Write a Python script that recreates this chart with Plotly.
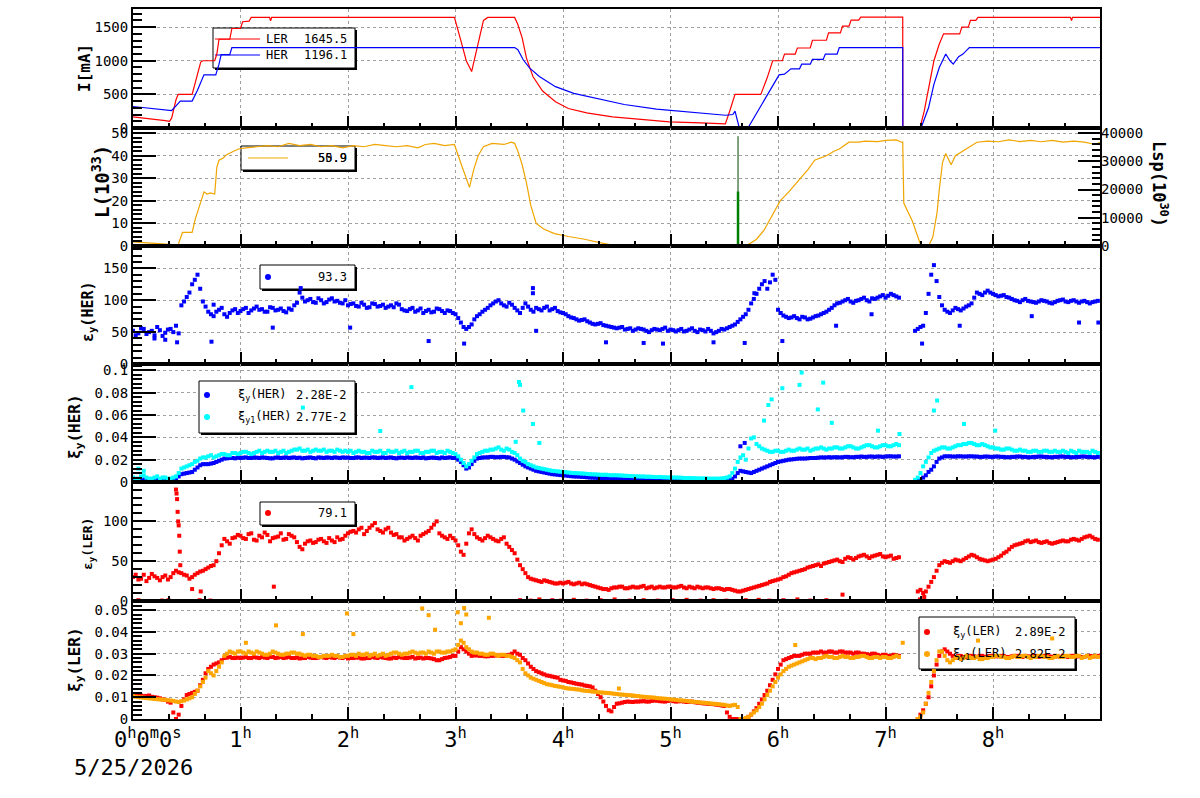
import plotly.graph_objects as go

# ---------------- data ----------------
hour_ticks = [0, 1, 2, 3, 4, 5, 6, 7, 8]
hour_labels = ["0<sup>h</sup>0<sup>m</sup>0<sup>s</sup>", "1<sup>h</sup>", "2<sup>h</sup>", "3<sup>h</sup>",
               "4<sup>h</sup>", "5<sup>h</sup>", "6<sup>h</sup>", "7<sup>h</sup>", "8<sup>h</sup>"]
date_label = "5/25/2026"

# beam currents [mA] (breakpoints in hours)
ler_t = [0, 0.1, 0.2, 0.3, 0.34, 0.36, 0.40, 0.42, 0.55, 0.58, 0.63, 0.65, 0.76, 0.78, 0.80, 0.90, 0.92, 1.00,
         1.02, 1.08, 1.10, 1.27, 1.28, 1.29, 2.99, 3.05, 3.10, 3.15, 3.20, 3.26, 3.30, 3.55, 3.58, 3.62, 3.66,
         3.72, 3.81, 3.93, 4.05, 4.22, 4.46, 4.69, 4.99, 5.28, 5.51, 5.55, 5.60, 5.84, 5.90, 5.95, 6.04, 6.06,
         6.16, 6.18, 6.30, 6.32, 6.45, 6.47, 6.58, 6.60, 6.66, 6.68, 6.75, 6.77, 7.16, 7.161, 7.32, 7.36, 7.40,
         7.45, 7.50, 7.54, 7.69, 7.71, 7.77, 7.79, 7.84, 7.86, 8.72, 8.73, 8.74, 8.995]
ler_i = [165, 150, 125, 110, 100, 150, 420, 500, 500, 680, 980, 1000, 1000, 1100, 1320, 1320, 1480, 1480,
         1580, 1590, 1645, 1645, 1595, 1645, 1645, 1300, 1000, 840, 1200, 1600, 1645, 1645, 1540, 1340, 1040,
         765, 550, 390, 290, 225, 165, 130, 90, 75, 60, 250, 500, 500, 750, 1000, 1000, 1100,
         1100, 1190, 1190, 1305, 1305, 1415, 1415, 1515, 1515, 1605, 1605, 1650, 1650, 0, 0, 250, 600,
         1000, 1250, 1400, 1400, 1500, 1500, 1600, 1600, 1645, 1645, 1600, 1645, 1645]
her_t = [0, 0.1, 0.2, 0.3, 0.36, 0.40, 0.44, 0.55, 0.60, 0.66, 0.77, 0.80, 0.82, 0.90, 0.92, 3.55, 3.58, 3.63,
         3.69, 3.78, 3.93, 4.10, 4.34, 4.57, 4.87, 5.16, 5.51, 5.58, 5.60, 5.64, 5.72, 6.01, 6.06, 6.12, 6.20,
         6.22, 6.30, 6.32, 6.42, 6.44, 6.55, 6.57, 7.16, 7.161, 7.33, 7.40, 7.45, 7.50, 7.56, 7.60, 7.63, 7.68,
         7.72, 7.78, 8.995]
her_i = [320, 305, 290, 265, 260, 330, 400, 400, 560, 790, 790, 950, 1090, 1090, 1196, 1196, 1165, 1015,
         890, 765, 615, 515, 425, 350, 280, 240, 190, 200, 250, 0, 0, 790, 800, 880, 880,
         950, 950, 1020, 1020, 1100, 1100, 1196, 1196, 0, 0, 300, 650, 900, 1100, 1000, 950, 1060,
         1100, 1196, 1196]
leg_I_names = ["LER", "HER"]
leg_I_vals = ["1645.5", "1196.1"]

# luminosity L (10^33) and specific luminosity spike (right axis)
lum_t = [0, 0.1, 0.2, 0.3, 0.37, 0.40, 0.42, 0.46, 0.55, 0.58, 0.62, 0.66, 0.69, 0.72, 0.76, 0.78, 0.80, 0.84,
         0.87, 0.92, 0.98, 1.05, 1.15, 1.25, 1.35, 1.45, 1.55, 1.65, 1.75, 1.85, 1.95, 2.05, 2.15, 2.25, 2.35,
         2.45, 2.55, 2.65, 2.72, 2.80, 2.90, 2.99, 3.04, 3.10, 3.13, 3.17, 3.21, 3.26, 3.34, 3.45, 3.52, 3.55,
         3.58, 3.62, 3.66, 3.70, 3.75, 3.82, 3.92, 4.05, 4.20, 4.34, 4.46, 4.60, 4.80, 5.00, 5.20, 5.40, 5.50,
         5.62, 5.68, 5.72, 5.80, 5.87, 5.93, 5.99, 6.02, 6.10, 6.19, 6.28, 6.34, 6.45, 6.52, 6.57, 6.66, 6.75,
         6.81, 6.93, 7.00, 7.10, 7.15, 7.16, 7.17, 7.25, 7.33, 7.40, 7.44, 7.48, 7.50, 7.53, 7.56, 7.61, 7.65,
         7.72, 7.78, 7.85, 7.95, 8.05, 8.15, 8.25, 8.35, 8.45, 8.55, 8.65, 8.75, 8.85, 8.95, 8.995]
lum_v = [1.8, 1.5, 1.2, 1.0, 0.6, 0, 0.5, 6, 6, 12, 18, 24, 23, 23.5, 23, 35, 38, 39,
         40.5, 41.5, 43, 43.5, 44, 44.5, 44, 45.5, 44.5, 45, 44, 44.5, 43.5, 44.5, 44, 45, 44.5,
         44, 44.5, 43.5, 45, 45.5, 44.5, 45, 38, 30, 26, 34, 40, 44, 45.5, 45, 46, 45.5,
         42, 36, 28, 18, 10, 7.5, 5.5, 4.2, 3.0, 1.5, 0.4, 0.3, 0.3, 0.2, 0.2, 0.1, 0,
         0.3, 0, 0.5, 3, 7, 12, 17, 20, 24, 29, 34, 38, 40, 42, 43, 46, 46,
         46.5, 46.3, 46.8, 47, 46, 46, 19, 11, 0, 0, 4, 15, 25, 37, 41, 36, 40,
         42, 44, 46, 46.5, 46.2, 47, 46.3, 46.8, 46.2, 46.8, 46, 46.5, 46, 45, 46]
lsp_t = [5.628, 5.628]
lsp_peak = [0, 38900]
lsp_core = [0, 19300]
leg_L_vals = ["55.9", "50.9"]

# sampled time grids for the point series (every 3 min, plus the readings in between)
t_grid = [round(0.05 * i, 2) for i in range(180)]
t_mid = [round(0.025 + 0.05 * i, 3) for i in range(180)]

emit_her = [52, 48, 55, 50, 45, 53, 49, 55, 60, 92, 105, 125, 140, 98, 82, 75, 85, 78, 80, 86,
            83, 88, 84, 90, 86, 82, 88, 85, 83, 87, 92, 112, 98, 102, 96, 100, 97, 103, 99, 95,
            92, 95, 90, 93, 89, 94, 91, 88, 92, 95, 86, 83, 88, 84, 80, 85, 82, 86, 80, 83,
            78, 65, 55, 62, 75, 82, 88, 95, 100, 92, 96, 88, 80, 95, 85, 88, 84, 90, 86, 83,
            80, 75, 72, 68, 70, 65, 62, 64, 60, 58, 56, 58, 55, 52, 56, 54, 50, 55, 53, 57,
            54, 51, 55, 52, 56, 50, 53, 55, 48, 52, 54, 58, 62, 70, 78, 95, 110, 125, 118, 140,
            85, 76, 72, 75, 70, 73, 71, 75, 78, 82, 88, 95, 98, 102, 96, 100, 104, 98, 102, 106,
            104, 110, 106, None, None, None, 55, 60, 110, 155, 105, 85, 80, 88, 84, 90, 95, 112, 108, 115,
            110, 106, 108, 104, 100, 97, 102, 98, 96, 100, 98, 95, 99, 101, 97, 100, 96, 99, 95, 98]
emit_her_mid = [45, 56, 47, 52, 58, 44, 54, 50, 48, 98, 112, 132, 118, 90, 78, 82, 88, 74, 84, 80,
                86, 80, 87, 85, 82, 89, 84, 87, 81, 85, 96, 104, 100, 97, 103, 95, 101, 98, 96, 100,
                94, 91, 96, 88, 95, 90, 93, 90, 89, 93, 84, 86, 82, 87, 83, 81, 87, 83, 84, 80,
                72, 58, 58, 70, 78, 85, 92, 98, 95, 90, 93, 84, 88, 90, 82, 86, 88, 84, 88, 81,
                78, 73, 70, 69, 67, 63, 63, 61, 59, 57, 57, 54, 56, 54, 55, 52, 53, 54, 55, 52,
                53, 53, 51, 54, 52, 54, 51, 52, 50, 55, 56, 60, 66, 74, 85, 102, 118, 130, 128, 132,
                80, 74, 73, 72, 74, 70, 73, 76, 80, 85, 92, 96, 100, 98, 99, 102, 100, 103, 104, 108,
                107, 108, 104, None, None, 52, 58, 80, 140, 130, 92, 82, 84, 86, 87, 92, 104, 110, 112, 112,
                108, 107, 105, 102, 99, 100, 99, 97, 98, 99, 96, 97, 100, 98, 99, 98, 98, 97, 97, 99]
emit_her_out_t = [0.41, 0.73, 1.30, 2.02, 2.75, 3.08, 3.75, 4.40, 4.75, 4.93, 5.40, 5.69, 6.04, 7.34, 7.69,
                  8.36, 8.80, 8.98, 0.75, 3.72, 3.72, 5.78, 6.87, 6.54, 0.30, 0.20, 1.56]
emit_her_out_v = [34, 35, 57, 57, 36, 32, 52, 34, 33, 32, 34, 33, 36, 32, 60,
                  75, 65, 65, 93, 119, 111, 111, 78, 60, 38, 40, 119]
leg_emit_her = "93.3"

xi_her = [0.002, 0.002, 0.0022, 0.002, 0.0018, 0.002, 0.0022, 0.002, 0.003, 0.007,
          0.008, 0.009, 0.013, 0.016, 0.016, 0.017, 0.019, 0.021, 0.0215, 0.0212,
          0.0215, 0.022, 0.0215, 0.0218, 0.022, 0.0215, 0.0212, 0.022, 0.0218, 0.0215,
          0.022, 0.0218, 0.0215, 0.022, 0.0212, 0.0218, 0.022, 0.0215, 0.0218, 0.022,
          0.0218, 0.0215, 0.022, 0.0218, 0.0215, 0.022, 0.0218, 0.0215, 0.022, 0.0212,
          0.0218, 0.022, 0.0215, 0.0218, 0.022, 0.0215, 0.0218, 0.0212, 0.0215, 0.022,
          0.0215, 0.018, 0.012, 0.016, 0.021, 0.022, 0.0222, 0.0225, 0.0222, 0.0225,
          0.022, 0.02, 0.017, 0.014, 0.012, 0.010, 0.009, 0.008, 0.007, 0.0065,
          0.006, 0.0055, 0.005, 0.0048, 0.0045, 0.004, 0.0038, 0.0035, 0.0033, 0.003,
          0.0028, 0.0025, 0.0022, 0.002, 0.0018, 0.0016, 0.0015, 0.0014, 0.0013, 0.0012,
          0.0012, 0.0011, 0.001, 0.001, 0.0011, 0.001, 0.001, 0.0011, 0.001, 0.001,
          0.0012, 0.002, 0.005, 0.010, 0.009, 0.008, 0.010, 0.012, 0.014, 0.016,
          0.018, 0.019, 0.020, 0.0205, 0.021, 0.021, 0.0215, 0.0215, 0.022, 0.022,
          0.022, 0.0222, 0.0222, 0.0225, 0.0222, 0.0225, 0.0225, 0.0228, 0.0225, 0.0228,
          0.0228, 0.023, 0.0228, None, None, None, 0.001, 0.004, 0.009, 0.014,
          0.021, 0.023, 0.023, 0.0228, 0.023, 0.0228, 0.023, 0.0228, 0.0225, 0.0228,
          0.0225, 0.0228, 0.0225, 0.0222, 0.0225, 0.0228, 0.0225, 0.0222, 0.0225, 0.0228,
          0.0225, 0.0222, 0.0225, 0.0228, 0.0225, 0.0222, 0.0225, 0.0228, 0.0225, 0.0222]
xi_her_mid = [0.002, 0.0021, 0.002, 0.0019, 0.0021, 0.002, 0.0021, 0.002, 0.005, 0.0075,
              0.0085, 0.011, 0.015, 0.016, 0.0165, 0.018, 0.020, 0.0212, 0.0215, 0.0218,
              0.0218, 0.0215, 0.022, 0.0215, 0.0218, 0.0212, 0.0218, 0.0215, 0.022, 0.0218,
              0.0215, 0.0212, 0.0218, 0.0215, 0.022, 0.0215, 0.0218, 0.022, 0.0215, 0.0218,
              0.0215, 0.022, 0.0215, 0.0218, 0.022, 0.0215, 0.022, 0.0218, 0.0215, 0.0218,
              0.0215, 0.0218, 0.022, 0.0215, 0.0212, 0.0218, 0.0215, 0.022, 0.0218, 0.0215,
              0.020, 0.015, 0.013, 0.019, 0.0215, 0.022, 0.0225, 0.0222, 0.0225, 0.0222,
              0.021, 0.0185, 0.0155, 0.013, 0.011, 0.0095, 0.0085, 0.0075, 0.0068, 0.0062,
              0.0058, 0.0052, 0.0049, 0.0046, 0.0042, 0.0039, 0.0036, 0.0034, 0.0032, 0.0029,
              0.0026, 0.0024, 0.0021, 0.0019, 0.0017, 0.0015, 0.0014, 0.0013, 0.0012, 0.0012,
              0.0011, 0.001, 0.0011, 0.001, 0.001, 0.0011, 0.001, 0.001, 0.0011, 0.001,
              0.0015, 0.003, 0.008, 0.0095, 0.0085, 0.009, 0.011, 0.013, 0.015, 0.017,
              0.0185, 0.0195, 0.0202, 0.0208, 0.021, 0.0212, 0.0215, 0.0218, 0.022, 0.0222,
              0.0222, 0.022, 0.0225, 0.0222, 0.0225, 0.0228, 0.0225, 0.0228, 0.0228, 0.0225,
              0.023, 0.0228, 0.023, None, None, 0.0, 0.002, 0.006, 0.011, 0.018,
              0.022, 0.023, 0.0228, 0.023, 0.0228, 0.023, 0.0228, 0.0225, 0.0228, 0.0225,
              0.0228, 0.0225, 0.0222, 0.0225, 0.0228, 0.0225, 0.0222, 0.0225, 0.0228, 0.0225,
              0.0222, 0.0225, 0.0228, 0.0225, 0.0222, 0.0225, 0.0228, 0.0225, 0.0222, 0.0225]
xi_her_out_t = [5.69, 5.65]
xi_her_out_v = [0.035, 0.032]
xi1_her = [0.004, 0.003, 0.006, 0.003, 0.004, 0.003, 0.004, 0.003, 0.005, 0.012,
           0.014, 0.016, 0.019, 0.022, 0.023, 0.022, 0.024, 0.025, 0.024, 0.026,
           0.026, 0.027, 0.025, 0.027, 0.026, 0.028, 0.027, 0.026, 0.028, 0.027,
           0.029, 0.030, 0.028, 0.027, 0.029, 0.028, 0.027, 0.028, 0.029, 0.027,
           0.027, 0.026, 0.028, 0.027, 0.026, 0.027, 0.028, 0.026, 0.027, 0.028,
           0.027, 0.026, 0.027, 0.028, 0.026, 0.027, 0.028, 0.027, 0.026, 0.027,
           0.025, 0.020, 0.014, 0.019, 0.025, 0.027, 0.028, 0.029, 0.031, 0.028,
           0.029, 0.026, 0.021, 0.018, 0.015, 0.013, 0.012, 0.011, 0.010, 0.0095,
           0.009, 0.0085, 0.008, 0.0078, 0.0075, 0.007, 0.0068, 0.0065, 0.0065, 0.006,
           0.006, 0.0058, 0.0055, 0.0052, 0.005, 0.005, 0.0048, 0.0045, 0.0045, 0.0042,
           0.004, 0.004, 0.0038, 0.0035, 0.0035, 0.0033, 0.0032, 0.003, 0.003, 0.003,
           0.0035, 0.005, 0.012, 0.022, 0.020, 0.039, 0.034, 0.030, 0.028, 0.027,
           0.028, 0.027, 0.029, 0.028, 0.030, 0.029, 0.028, 0.030, 0.031, 0.029,
           0.030, 0.031, 0.030, 0.032, 0.031, 0.030, 0.032, 0.033, 0.031, 0.032,
           0.033, 0.032, 0.034, None, None, None, 0.004, 0.014, 0.022, 0.028,
           0.030, 0.031, 0.030, 0.032, 0.033, 0.034, 0.035, 0.033, 0.034, 0.032,
           0.031, 0.030, 0.029, 0.030, 0.028, 0.029, 0.028, 0.027, 0.028, 0.027,
           0.028, 0.027, 0.027, 0.028, 0.026, 0.027, 0.028, 0.027, 0.026, 0.027]
xi1_her_mid = [0.003, 0.005, 0.004, 0.003, 0.005, 0.004, 0.003, 0.004, 0.008, 0.013,
               0.015, 0.018, 0.021, 0.022, 0.024, 0.023, 0.025, 0.024, 0.026, 0.025,
               0.027, 0.026, 0.026, 0.028, 0.027, 0.027, 0.028, 0.027, 0.026, 0.028,
               0.029, 0.028, 0.029, 0.028, 0.028, 0.029, 0.028, 0.027, 0.028, 0.028,
               0.028, 0.027, 0.027, 0.026, 0.028, 0.027, 0.026, 0.028, 0.027, 0.026,
               0.028, 0.027, 0.028, 0.026, 0.027, 0.028, 0.026, 0.027, 0.028, 0.026,
               0.023, 0.017, 0.016, 0.022, 0.026, 0.028, 0.029, 0.030, 0.029, 0.030,
               0.027, 0.024, 0.019, 0.016, 0.014, 0.0125, 0.0115, 0.0105, 0.0098, 0.0092,
               0.0088, 0.0082, 0.0079, 0.0076, 0.0072, 0.0069, 0.0066, 0.0064, 0.0062, 0.0061,
               0.0059, 0.0056, 0.0054, 0.0051, 0.0049, 0.0047, 0.0046, 0.0044, 0.0043, 0.0041,
               0.004, 0.0039, 0.0036, 0.0035, 0.0034, 0.0032, 0.0031, 0.003, 0.003, 0.0032,
               0.004, 0.008, 0.018, 0.024, 0.030, 0.040, 0.032, 0.029, 0.027, 0.028,
               0.027, 0.028, 0.028, 0.029, 0.029, 0.030, 0.029, 0.030, 0.030, 0.030,
               0.031, 0.030, 0.031, 0.032, 0.030, 0.031, 0.033, 0.032, 0.031, 0.033,
               0.032, 0.033, 0.033, None, None, 0.002, 0.008, 0.018, 0.026, 0.029,
               0.031, 0.030, 0.031, 0.033, 0.034, 0.035, 0.034, 0.033, 0.033, 0.031,
               0.030, 0.029, 0.030, 0.029, 0.028, 0.028, 0.027, 0.028, 0.027, 0.028,
               0.027, 0.028, 0.027, 0.027, 0.028, 0.026, 0.027, 0.027, 0.028, 0.026]
xi1_her_out_t = [1.58, 2.30, 2.59, 3.59, 3.60, 3.63, 3.72, 3.56, 3.78, 5.87, 5.91, 5.94, 6.04, 6.20, 6.22,
                 6.42, 6.37, 6.50, 6.93, 7.13, 7.45, 7.48, 7.73, 8.02, 0.05, 0.10]
xi1_her_out_v = [0.0666, 0.0457, 0.085, 0.0896, 0.087, 0.064, 0.052, 0.036, 0.035, 0.055, 0.069, 0.074,
                 0.084, 0.087, 0.098, 0.089, 0.065, 0.053, 0.046, 0.043, 0.064, 0.073, 0.052, 0.046,
                 0.012, 0.010]
leg_xi_her_names = ["ξ<sub>y</sub>(HER)", "ξ<sub>y1</sub>(HER)"]
leg_xi_her_vals = ["2.28E-2", "2.77E-2"]

emit_ler = [30, 27, 33, 29, 31, 26, 32, 30, 38, 35, 32, 30, 35, 38, 42, 45, 60, 78, 72, 80,
            82, 78, 85, 76, 80, 83, 79, 81, 77, 84, 80, 68, 72, 76, 74, 78, 73, 76, 80, 78,
            85, 88, 90, 84, 92, 98, 88, 90, 86, 84, 80, 78, 82, 76, 84, 88, 96, 85, 80, 82,
            76, 62, 72, 90, 80, 76, 82, 78, 75, 80, 68, 60, 45, 35, 28, 26, 24, 25, 23, 22,
            22, 24, 21, 23, 22, 20, 18, 16, 15, 16, 17, 18, 16, 18, 17, 19, 17, 16, 18, 17,
            18, 17, 19, 16, 17, 18, 16, 17, 15, 16, 14, 15, 13, 12, 14, 16, 18, 20, 22, 25,
            27, 30, 33, 36, 38, 40, 43, 45, 44, 48, 50, 52, 49, 55, 52, 56, 58, 54, 57, 59,
            55, 57, 54, None, None, None, 12, 10, 18, 30, 45, 50, 48, 52, 50, 54, 58, 55, 52, 50,
            52, 55, 60, 65, 70, 72, 75, 74, 76, 73, 75, 72, 74, 76, 75, 78, 76, 80, 82, 78]
emit_ler_mid = [33, 28, 25, 34, 29, 30, 27, 35, 36, 33, 28, 33, 37, 40, 44, 50, 70, 75, 79, 83,
                79, 84, 77, 82, 86, 75, 80, 85, 78, 82, 74, 65, 75, 73, 77, 75, 79, 74, 77, 82,
                87, 86, 92, 88, 95, 90, 86, 92, 83, 80, 76, 80, 79, 82, 86, 92, 100, 82, 78, 79,
                70, 58, 85, 84, 78, 79, 80, 76, 78, 72, 64, 52, 40, 30, 27, 25, 26, 24, 22, 23,
                23, 22, 22, 21, 21, 19, 17, 15, 14, 17, 18, 16, 17, 17, 18, 16, 18, 17, 17, 18,
                17, 18, 17, 18, 16, 17, 17, 16, 16, 15, 15, 14, 12, 13, 15, 17, 19, 21, 24, 26,
                28, 31, 35, 37, 39, 42, 44, 46, 47, 49, 51, 50, 53, 54, 54, 57, 56, 56, 58, 56,
                56, 53, 55, None, None, None, 14, 12, 24, 38, 48, 49, 50, 51, 52, 56, 57, 53, 51, 51,
                53, 57, 62, 68, 71, 73, 76, 75, 74, 74, 73, 73, 75, 75, 77, 77, 78, 81, 80, 77]
emit_ler_out_t = [0.40, 0.405, 0.41, 0.415, 0.42, 0.425, 0.43, 0.435, 0.44,
                  0.05, 0.27, 0.33, 0.62, 0.72, 0.55, 0.63, 1.31, 3.60, 3.70, 3.78, 3.90, 3.98, 4.10,
                  4.22, 4.35, 4.48, 4.62, 4.75, 4.88, 5.02, 5.15, 5.28, 5.40, 5.52, 5.62, 5.70, 5.82,
                  5.92, 6.05, 6.18, 6.30, 6.45, 6.60, 7.32, 7.36]
emit_ler_out_v = [140, 135, 128, 112, 100, 95, 82, 62, 45,
                  1, 0.5, 1, 1, 0.5, 15, 12, 18, 1, 0.5, 2, 1, 0.5, 1.5,
                  0.5, 1, 2, 0.5, 1, 0.5, 1, 1.5, 0.5, 1, 0.5, 0, 1, 1.5,
                  0.5, 1, 2, 0.5, 1, 8, 2, 5]
leg_emit_ler = "79.1"

xi_ler = [0.011, 0.011, 0.0105, 0.0108, 0.010, 0.0095, 0.0088, 0.0075, 0.0, 0.006,
          0.011, 0.012, 0.013, 0.018, 0.023, 0.025, 0.026, 0.028, 0.0285, 0.028,
          0.028, 0.0285, 0.028, 0.0282, 0.0285, 0.028, 0.0285, 0.0282, 0.028, 0.0285,
          0.028, 0.0278, 0.028, 0.0282, 0.028, 0.0285, 0.028, 0.0282, 0.0285, 0.028,
          0.0278, 0.028, 0.0282, 0.0278, 0.028, 0.0282, 0.0285, 0.028, 0.0278, 0.028,
          0.0282, 0.028, 0.0285, 0.028, 0.0278, 0.028, 0.0275, 0.027, 0.028, 0.0285,
          0.029, 0.033, 0.031, 0.029, 0.0292, 0.029, 0.0288, 0.029, 0.0292, 0.029,
          0.0295, 0.031, 0.0295, 0.027, 0.024, 0.022, 0.021, 0.020, 0.0195, 0.019,
          0.0177, 0.017, 0.0165, 0.016, 0.0154, 0.015, 0.013, 0.010, 0.006, 0.0035,
          0.007, 0.0075, 0.008, 0.0078, 0.008, 0.0082, 0.008, 0.0085, 0.0082, 0.008,
          0.0085, 0.008, 0.0082, 0.0078, 0.008, 0.0075, 0.0072, 0.007, 0.0068, 0.0065,
          0.006, 0.001, 0.0, 0.0, 0.0, 0.002, 0.005, 0.009, 0.013, 0.018,
          0.023, 0.027, 0.028, 0.029, 0.029, 0.030, 0.030, 0.0305, 0.031, 0.0305,
          0.031, 0.0305, 0.031, 0.0305, 0.030, 0.0305, 0.030, 0.0295, 0.030, 0.029,
          0.0295, 0.029, 0.0292, None, None, None, 0.0, 0.004, 0.010, 0.020,
          0.029, 0.032, 0.030, 0.0285, 0.029, 0.0285, 0.029, 0.0285, 0.029, 0.0288,
          0.029, 0.0288, 0.029, 0.0285, 0.029, 0.0288, 0.029, 0.0285, 0.029, 0.0288,
          0.029, 0.0285, 0.0288, 0.029, 0.0285, 0.029, 0.0288, 0.0285, 0.029, 0.0288]
xi_ler_mid = [0.0112, 0.0108, 0.0106, 0.0102, 0.0098, 0.009, 0.008, 0.003, 0.002, 0.009,
              0.0115, 0.0125, 0.0155, 0.021, 0.024, 0.0255, 0.027, 0.0282, 0.028, 0.0282,
              0.0282, 0.028, 0.0285, 0.028, 0.0282, 0.0285, 0.028, 0.0285, 0.0282, 0.028,
              0.0282, 0.028, 0.0285, 0.028, 0.0282, 0.0282, 0.0285, 0.028, 0.0282, 0.0285,
              0.028, 0.0282, 0.0278, 0.028, 0.0285, 0.028, 0.0282, 0.0278, 0.0282, 0.0285,
              0.028, 0.0282, 0.0278, 0.0282, 0.028, 0.0278, 0.027, 0.0275, 0.0282, 0.029,
              0.031, 0.032, 0.030, 0.0292, 0.029, 0.0288, 0.029, 0.0292, 0.029, 0.0292,
              0.030, 0.030, 0.028, 0.0255, 0.023, 0.0215, 0.0205, 0.0198, 0.0192, 0.018,
              0.0175, 0.0168, 0.0162, 0.0158, 0.0152, 0.0145, 0.0115, 0.008, 0.004, 0.0055,
              0.0072, 0.0078, 0.0079, 0.008, 0.0081, 0.008, 0.0083, 0.0084, 0.0081, 0.0083,
              0.0082, 0.0081, 0.008, 0.0079, 0.0077, 0.0074, 0.0071, 0.0069, 0.0066, 0.0062,
              0.003, 0.0, 0.0, 0.0, 0.001, 0.0035, 0.007, 0.011, 0.0155, 0.0205,
              0.025, 0.0275, 0.0285, 0.029, 0.0295, 0.030, 0.0305, 0.0305, 0.0305, 0.031,
              0.0305, 0.031, 0.0305, 0.0305, 0.0305, 0.030, 0.0298, 0.030, 0.0295, 0.0295,
              0.029, 0.0295, 0.029, None, None, None, 0.002, 0.007, 0.015, 0.025,
              0.031, 0.031, 0.029, 0.029, 0.0285, 0.029, 0.0288, 0.029, 0.0285, 0.029,
              0.0288, 0.029, 0.0285, 0.0288, 0.029, 0.0285, 0.0288, 0.029, 0.0285, 0.029,
              0.0288, 0.029, 0.0285, 0.0288, 0.029, 0.0288, 0.0285, 0.029, 0.0288, 0.029]
xi1_ler = [0.0105, 0.010, 0.0098, 0.0095, 0.0092, 0.009, 0.0088, 0.0085, 0.008, 0.0082,
           0.009, 0.010, 0.013, 0.017, 0.022, 0.020, 0.024, 0.029, 0.031, 0.030,
           0.031, 0.030, 0.0305, 0.031, 0.030, 0.0295, 0.031, 0.030, 0.0295, 0.030,
           0.0305, 0.030, 0.029, 0.0295, 0.029, 0.0285, 0.029, 0.0295, 0.029, 0.0285,
           0.029, 0.0295, 0.030, 0.0295, 0.029, 0.030, 0.0295, 0.029, 0.030, 0.0305,
           0.0295, 0.030, 0.031, 0.030, 0.0305, 0.031, 0.030, 0.031, 0.0305, 0.031,
           0.032, 0.036, 0.033, 0.031, 0.0305, 0.030, 0.0295, 0.030, 0.029, 0.0295,
           0.029, 0.028, 0.026, 0.021, 0.019, 0.018, 0.017, 0.016, 0.0155, 0.015,
           0.0145, 0.014, 0.0138, 0.0135, 0.013, 0.0128, 0.0125, 0.0122, 0.012, 0.0118,
           0.0115, 0.0112, 0.011, 0.0108, 0.0105, 0.0102, 0.010, 0.0098, 0.0095, 0.0093,
           0.009, 0.0088, 0.0085, 0.0083, 0.008, 0.0078, 0.0075, 0.0073, 0.007, 0.0068,
           0.0065, 0.006, 0.0065, 0.0, 0.0005, 0.002, 0.004, 0.007, 0.011, 0.015,
           0.019, 0.022, 0.024, 0.025, 0.026, 0.027, 0.028, 0.0275, 0.028, 0.029,
           0.0285, 0.028, 0.029, 0.0285, 0.028, 0.0285, 0.029, 0.028, 0.0285, 0.028,
           0.0285, 0.028, 0.029, None, None, None, 0.0, 0.003, 0.012, 0.022,
           0.031, 0.029, 0.026, 0.028, 0.0275, 0.029, 0.028, 0.0285, 0.0275, 0.028,
           0.0285, 0.029, 0.0285, 0.028, 0.029, 0.0285, 0.029, 0.028, 0.0285, 0.029,
           0.0285, 0.028, 0.029, 0.0285, 0.029, 0.0285, 0.029, 0.0285, 0.028, 0.029]
xi1_ler_mid = [0.0102, 0.0099, 0.0096, 0.0094, 0.0091, 0.0089, 0.0086, 0.0083, 0.0078, 0.0085,
               0.0095, 0.0115, 0.015, 0.019, 0.021, 0.022, 0.026, 0.030, 0.0305, 0.031,
               0.0305, 0.031, 0.030, 0.0305, 0.0295, 0.030, 0.0305, 0.0295, 0.030, 0.0305,
               0.030, 0.0295, 0.0295, 0.029, 0.0285, 0.029, 0.029, 0.029, 0.0285, 0.029,
               0.0295, 0.029, 0.0295, 0.030, 0.0295, 0.029, 0.030, 0.0295, 0.0305, 0.030,
               0.030, 0.0305, 0.0305, 0.0305, 0.030, 0.0305, 0.031, 0.0305, 0.031, 0.0315,
               0.034, 0.035, 0.032, 0.0305, 0.030, 0.0295, 0.030, 0.0295, 0.0295, 0.029,
               0.0285, 0.027, 0.023, 0.020, 0.0185, 0.0175, 0.0165, 0.0158, 0.0152, 0.0148,
               0.0142, 0.0139, 0.0136, 0.0132, 0.0129, 0.0126, 0.0123, 0.0121, 0.0119, 0.0116,
               0.0113, 0.0111, 0.0109, 0.0106, 0.0103, 0.0101, 0.0099, 0.0096, 0.0094, 0.0092,
               0.0089, 0.0086, 0.0084, 0.0081, 0.0079, 0.0076, 0.0074, 0.0071, 0.0069, 0.0066,
               0.0062, 0.0063, 0.0055, 0.0, 0.001, 0.003, 0.0055, 0.009, 0.013, 0.017,
               0.0205, 0.023, 0.0245, 0.0255, 0.0265, 0.0275, 0.028, 0.028, 0.0285, 0.0285,
               0.028, 0.0285, 0.0285, 0.028, 0.0285, 0.029, 0.0285, 0.028, 0.0285, 0.0285,
               0.028, 0.0285, 0.0285, None, None, None, 0.001, 0.007, 0.017, 0.027,
               0.031, 0.027, 0.027, 0.0285, 0.028, 0.0285, 0.028, 0.0275, 0.028, 0.0285,
               0.029, 0.0285, 0.028, 0.0285, 0.0285, 0.029, 0.0285, 0.0285, 0.029, 0.0285,
               0.028, 0.0285, 0.0285, 0.029, 0.0285, 0.029, 0.028, 0.029, 0.0285, 0.0285]
xi1_ler_out_t = [1.05, 1.33, 1.58, 1.99, 2.05, 2.69, 2.75, 2.81, 3.02, 3.05, 3.08, 3.10, 3.31, 4.52, 6.16,
                 7.16, 7.86, 8.55]
xi1_ler_out_v = [0.035, 0.043, 0.039, 0.0485, 0.039, 0.0508, 0.0477, 0.041, 0.049, 0.044, 0.051, 0.048,
                 0.0465, 0.014, 0.034, 0.035, 0.036, 0.037]
leg_xi_ler_names = ["ξ<sub>y</sub>(LER)", "ξ<sub>y1</sub>(LER)"]
leg_xi_ler_vals = ["2.89E-2", "2.82E-2"]

# ---------------- layout geometry ----------------
W, H = 1200, 798
X0, X1 = 133, 1100
XMAX = 8.995
PANEL_PX = {1: (9, 128), 2: (128, 246), 3: (246, 364), 4: (364, 482), 5: (482, 601), 6: (601, 719)}
YR = {1: [0, 1770], 2: [0, 52.3], 3: [0, 185], 4: [0, 0.1057], 5: [0, 149.5], 6: [0, 0.0542]}
DT = {1: (500, 100), 2: (10, 2), 3: (50, 10), 4: (0.02, 0.004), 5: (50, 10), 6: (0.01, 0.002)}
PLOT_TOP, PLOT_BOT = 9, 719
PH = PLOT_BOT - PLOT_TOP
MONO = "DejaVu Sans Mono"

RED, BLUE, CYAN, ORANGE, LORANGE = "#ff0000", "#0000ff", "#00ffff", "#ffa500", "#f0a500"


def px_x(px):
    return (px - X0) / (X1 - X0) * XMAX


def px_y(p, py):
    top, bot = PANEL_PX[p]
    lo, hi = YR[p]
    return lo + (bot - py) / (bot - top) * (hi - lo)


def paper_x(px):
    return (px - X0) / (X1 - X0)


def paper_y(py):
    return (PLOT_BOT - py) / PH


fig = go.Figure()
layout = dict(template="none", width=W, height=H,
              margin=dict(l=X0, r=W - X1, t=PLOT_TOP, b=H - PLOT_BOT, autoexpand=False),
              paper_bgcolor="white", plot_bgcolor="white", showlegend=False,
              font=dict(family=MONO, color="black"))

x_ticktext = [""] + hour_labels[1:]
for p in range(1, 7):
    top, bot = PANEL_PX[p]
    xa = dict(range=[0, XMAX], tickvals=hour_ticks, ticktext=x_ticktext, showticklabels=(p == 6),
              automargin=False,
              ticks="inside", ticklen=12, tickwidth=2, tickcolor="black",
              showline=True, linecolor="black", linewidth=2, mirror=True,
              showgrid=True, gridcolor="#a0a0a0", griddash="dot", gridwidth=1, zeroline=False,
              minor=dict(ticks="inside", ticklen=5, tickwidth=2, tickcolor="black", dtick=1 / 3, tick0=0,
                         showgrid=False),
              tickfont=dict(family=MONO, size=22, color="black"),
              anchor=f"y{p}")
    if p > 1:
        xa["matches"] = "x"
    ya = dict(domain=[(PLOT_BOT - bot) / PH, (PLOT_BOT - top) / PH], range=YR[p], dtick=DT[p][0], tick0=0,
              automargin=False,
              ticks="inside", ticklen=23, tickwidth=2, tickcolor="black",
              showline=True, linecolor="black", linewidth=2, mirror=True,
              showgrid=True, gridcolor="#a0a0a0", griddash="dot", gridwidth=1, zeroline=False,
              minor=dict(ticks="inside", ticklen=9, tickwidth=2, tickcolor="black", dtick=DT[p][1], tick0=0,
                         showgrid=False),
              tickfont=dict(family=MONO, size=14, color="black"), anchor=f"x{p}")
    layout["xaxis" if p == 1 else f"xaxis{p}"] = xa
    layout["yaxis" if p == 1 else f"yaxis{p}"] = ya

# right axis of panel 2
layout["yaxis7"] = dict(overlaying="y2", side="right", anchor="x2", range=[0, 41800], dtick=10000, tick0=0,
                        automargin=False, tickformat="d",
                        ticks="inside", ticklen=22, tickwidth=2, tickcolor="black", showgrid=False,
                        zeroline=False, showline=False,
                        minor=dict(ticks="inside", ticklen=8, tickwidth=2, tickcolor="black", dtick=2000),
                        tickfont=dict(family=MONO, size=14, color="black"))


# ---------------- traces ----------------
def line(x, y, color, p, width=1.2, yaxis=None):
    fig.add_trace(go.Scatter(x=x, y=y, mode="lines", line=dict(color=color, width=width),
                             xaxis="x" if p == 1 else f"x{p}", yaxis=yaxis or ("y" if p == 1 else f"y{p}"),
                             hoverinfo="skip"))


def pts(x, y, color, p, size=4):
    fig.add_trace(go.Scatter(x=x, y=y, mode="markers",
                             marker=dict(color=color, size=size, symbol="square", line=dict(width=0)),
                             xaxis="x" if p == 1 else f"x{p}", yaxis="y" if p == 1 else f"y{p}",
                             hoverinfo="skip"))


line(ler_t, ler_i, RED, 1)
line(her_t, her_i, BLUE, 1)
line(lum_t, lum_v, LORANGE, 2)
line(lsp_t, lsp_peak, "#004400", 2, width=1, yaxis="y7")
line(lsp_t, lsp_core, "#008000", 2, width=2.5, yaxis="y7")
pts(t_grid + t_mid + emit_her_out_t, emit_her + emit_her_mid + emit_her_out_v, BLUE, 3)
pts(t_grid + t_mid + xi_her_out_t, xi_her + xi_her_mid + xi_her_out_v, BLUE, 4)
pts(t_grid + t_mid + xi1_her_out_t, xi1_her + xi1_her_mid + xi1_her_out_v, CYAN, 4)
pts(t_grid + t_mid + emit_ler_out_t, emit_ler + emit_ler_mid + emit_ler_out_v, RED, 5)
pts(t_grid + t_mid, xi_ler + xi_ler_mid, RED, 6)
pts(t_grid + t_mid + xi1_ler_out_t, xi1_ler + xi1_ler_mid + xi1_ler_out_v, ORANGE, 6)

# ---------------- legends (ROOT-style boxes with shadow) ----------------
shapes = []
annotations = []


def legend_box(p, x0, y0, x1, y1):
    xr, yr = ("x" if p == 1 else f"x{p}"), ("y" if p == 1 else f"y{p}")
    shapes.append(dict(type="rect", xref=xr, yref=yr, layer="between",
                       x0=px_x(x0 + 2), x1=px_x(x1 + 2), y0=px_y(p, y0 + 2), y1=px_y(p, y1 + 2),
                       fillcolor="black", line=dict(width=0)))
    shapes.append(dict(type="rect", xref=xr, yref=yr, layer="between",
                       x0=px_x(x0), x1=px_x(x1), y0=px_y(p, y0), y1=px_y(p, y1),
                       fillcolor="white", line=dict(color="black", width=1)))


def legend_line(p, x0, x1, y, color):
    xr, yr = ("x" if p == 1 else f"x{p}"), ("y" if p == 1 else f"y{p}")
    shapes.append(dict(type="line", xref=xr, yref=yr, layer="between", x0=px_x(x0), x1=px_x(x1),
                       y0=px_y(p, y), y1=px_y(p, y), line=dict(color=color, width=1.2)))


def legend_dot(p, x, y, color):
    fig.add_trace(go.Scatter(x=[px_x(x)], y=[px_y(p, y)], mode="markers",
                             marker=dict(color=color, size=6, symbol="circle", line=dict(width=0)),
                             xaxis="x" if p == 1 else f"x{p}", yaxis="y" if p == 1 else f"y{p}",
                             hoverinfo="skip"))


def text(px, py, s, anchor="left", size=12):
    annotations.append(dict(x=paper_x(px), y=paper_y(py), xref="paper", yref="paper", text=s, showarrow=False,
                            xanchor=anchor, yanchor="middle", font=dict(family=MONO, size=size, color="black")))


# panel 1
legend_box(1, 213, 28, 355, 68)
legend_line(1, 215, 260, 39, RED)
legend_line(1, 215, 260, 55, BLUE)
text(264, 39, leg_I_names[0]); text(349, 39, leg_I_vals[0], "right")
text(264, 55, leg_I_names[1]); text(349, 55, leg_I_vals[1], "right")
# panel 2
legend_box(2, 241, 146, 355, 170)
legend_line(2, 248, 288, 158, LORANGE)
text(349, 158, leg_L_vals[0], "right"); text(349, 158, leg_L_vals[1], "right")
# panel 3
legend_box(3, 260, 265, 355, 289)
legend_dot(3, 268, 277, BLUE)
text(349, 277, leg_emit_her, "right")
# panel 4
legend_box(4, 199, 381, 355, 433)
legend_dot(4, 207, 395, BLUE)
legend_dot(4, 207, 417, CYAN)
text(236, 395, leg_xi_her_names[0]); text(349, 395, leg_xi_her_vals[0], "right")
text(236, 417, leg_xi_her_names[1]); text(349, 417, leg_xi_her_vals[1], "right")
# panel 5
legend_box(5, 260, 502, 355, 525)
legend_dot(5, 268, 513, RED)
text(349, 513, leg_emit_ler, "right")
# panel 6
legend_box(6, 919, 617, 1075, 669)
legend_dot(6, 927, 632, RED)
legend_dot(6, 927, 654, ORANGE)
text(951, 632, leg_xi_ler_names[0]); text(1068, 632, leg_xi_ler_vals[0], "right")
text(951, 654, leg_xi_ler_names[1]); text(1068, 654, leg_xi_ler_vals[1], "right")


# axis titles
def title(px, py, s, size=16, angle=-90):
    annotations.append(dict(x=paper_x(px), y=paper_y(py), xref="paper", yref="paper", text=s, showarrow=False,
                            xanchor="center", yanchor="middle", textangle=angle,
                            font=dict(family=MONO, size=size, color="black")))


title(84, 68, "<b>I[mA]</b>", 16)
title(101, 182, "<b>L(10<sup>33</sup>)</b>", 19)
title(88, 312, "<b>ε<sub>y</sub>(HER)</b>", 15)
title(75, 427, "<b>ξ<sub>y</sub>(HER)</b>", 16)
title(88, 544, "<b>ε<sub>y</sub>(LER)</b>", 13)
title(75, 660, "<b>ξ<sub>y</sub>(LER)</b>", 16)
title(1160, 184, "<b>Lsp(10<sup>30</sup>)</b>", 17, angle=90)

# first time label (offset like the reference) and the date
annotations.append(dict(x=paper_x(148), y=paper_y(738), xref="paper", yref="paper", text=hour_labels[0],
                        showarrow=False, xanchor="center", yanchor="middle",
                        font=dict(family=MONO, size=22, color="black")))
annotations.append(dict(x=paper_x(133), y=paper_y(768), xref="paper", yref="paper", text=date_label,
                        showarrow=False, xanchor="center", yanchor="middle",
                        font=dict(family=MONO, size=22, color="black")))

layout["shapes"] = shapes
layout["annotations"] = annotations
fig.update_layout(**layout)
fig.write_html("out.html")
